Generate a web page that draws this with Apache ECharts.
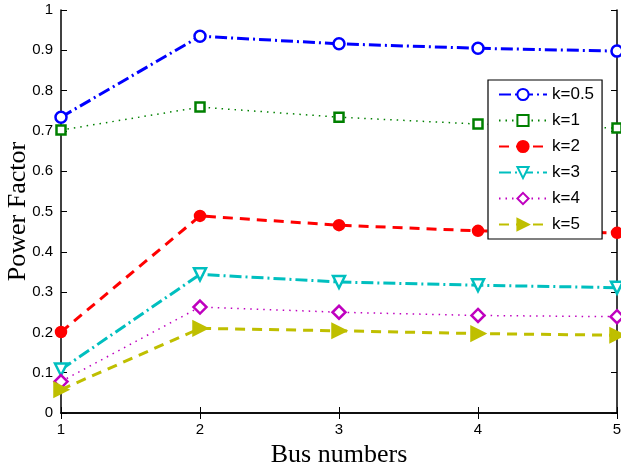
<!DOCTYPE html>
<html><head><meta charset="utf-8">
<script src="https://cdn.jsdelivr.net/npm/echarts@6/dist/echarts.min.js"></script>
<style>html,body{margin:0;padding:0;background:#fff}#c{width:621px;height:470px}</style>
</head><body><div id="c"></div>
<script>
const categories = [1, 2, 3, 4, 5];
const seriesNames = ['k=0.5', 'k=1', 'k=2', 'k=3', 'k=4', 'k=5'];
const k05 = [0.734, 0.935, 0.916, 0.905, 0.898];
const k1  = [0.702, 0.759, 0.734, 0.717, 0.707];
const k2  = [0.201, 0.489, 0.466, 0.452, 0.447];
const k3  = [0.108, 0.344, 0.325, 0.317, 0.311];
const k4  = [0.078, 0.263, 0.250, 0.242, 0.239];
const k5  = [0.058, 0.210, 0.204, 0.197, 0.193];
const yTicks = [0, 0.1, 0.2, 0.3, 0.4, 0.5, 0.6, 0.7, 0.8, 0.9, 1];

const values = [k05, k1, k2, k3, k4, k5];
const styles = [
  {color:'#0000ff', dash:[12,4,2,4], symbol:'circle', size:11, rot:0, fill:'#fff', lw:3},
  {color:'#008000', dash:[1.5,5], symbol:'rect', size:9, rot:0, fill:'#fff', lw:1.5},
  {color:'#ff0000', dash:[10,7], symbol:'circle', size:10, rot:0, fill:'#ff0000', lw:3},
  {color:'#00bfbf', dash:[12,4,2,4], symbol:'triangle', size:12, rot:180, fill:'#fff', lw:3},
  {color:'#bf00bf', dash:[1.5,5], symbol:'diamond', size:13, rot:0, fill:'#fff', lw:1.5},
  {color:'#bfbf00', dash:[10,7], symbol:'triangle', size:13, rot:-90, fill:'#bfbf00', lw:3}
];

const series = seriesNames.map((n, i) => ({
  name: n, type: 'line', xAxisIndex: 0, yAxisIndex: 0,
  data: categories.map((c, j) => [c, values[i][j]]),
  symbol: styles[i].symbol, symbolSize: styles[i].size, symbolRotate: styles[i].rot,
  lineStyle: {color: styles[i].color, width: styles[i].lw, type: styles[i].dash},
  itemStyle: {color: styles[i].fill, borderColor: styles[i].color, borderWidth: 2.5},
  clip: false, animation: false
}));

const chart = echarts.init(document.getElementById('c'));
const axisLine = {show:true, lineStyle:{color:'#000', width:1.5}};
chart.setOption({
  animation: false,
  grid: {left: 61, right: 4, top: 10, bottom: 57, show: false, containLabel: false, outerBoundsMode: 'none'},
  legend: {
    data: seriesNames, orient: 'vertical', left: 488, top: 80,
    itemWidth: 48, itemHeight: 14, itemGap: 9,
    padding: [6, 8, 6, 10],
    backgroundColor: '#fff', borderColor: '#000', borderWidth: 1.2,
    textStyle: {fontFamily: 'Liberation Sans', fontSize: 17, color: '#000'}
  },
  xAxis: [{
    type: 'value', min: 1, max: 5, interval: 1,
    name: 'Bus numbers', nameLocation: 'middle', nameGap: 29, nameMoveOverlap: false,
    nameTextStyle: {fontFamily: 'Liberation Serif', fontSize: 26, color: '#000'},
    axisLine: axisLine, axisTick: {inside: true, length: 6, lineStyle:{color:'#000'}},
    axisLabel: {fontFamily: 'Liberation Sans', fontSize: 15, color: '#000', margin: 9},
    splitLine: {show: false}
  }, {
    type: 'value', min: 1, max: 5, interval: 1, position: 'top',
    axisLine: axisLine, axisTick: {inside: true, length: 6, lineStyle:{color:'#000'}},
    axisLabel: {show: false}, splitLine: {show: false}
  }],
  yAxis: [{
    type: 'value', min: 0, max: 1, interval: 0.1,
    name: 'Power Factor', nameLocation: 'middle', nameGap: 30, nameMoveOverlap: false,
    nameTextStyle: {fontFamily: 'Liberation Serif', fontSize: 26, color: '#000'},
    axisLine: axisLine, axisTick: {inside: true, length: 6, lineStyle:{color:'#000'}},
    axisLabel: {fontFamily: 'Liberation Sans', fontSize: 15, color: '#000', margin: 8,
      formatter: v => String(yTicks[Math.round(v * 10)])},
    splitLine: {show: false}
  }, {
    type: 'value', min: 0, max: 1, interval: 0.1, position: 'right',
    axisLine: axisLine, axisTick: {inside: true, length: 6, lineStyle:{color:'#000'}},
    axisLabel: {show: false}, splitLine: {show: false}
  }],
  series: series
});
</script></body></html>
